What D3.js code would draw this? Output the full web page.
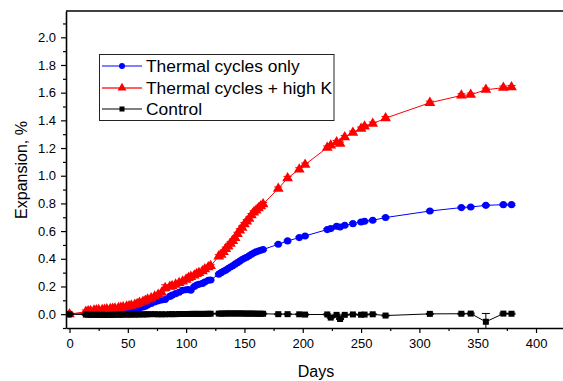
<!DOCTYPE html>
<html>
<head>
<meta charset="utf-8">
<script src="https://cdn.jsdelivr.net/npm/d3@7"></script>
<style>
  body { margin: 0; background: #fff; }
  svg { display: block; font-family: Arial, "Liberation Sans", sans-serif; }
</style>
</head>
<body>
<div id="chart"></div>
<script>
// measurement days (shared by all three series)
var days = [0, 14, 16, 18, 21, 23, 25, 28, 30, 32, 35, 37, 39, 42, 44, 46, 49, 51, 53, 56, 58, 60,
  63, 65, 67, 70, 73, 76, 79, 82, 86, 88, 91, 94, 97, 100, 102, 104, 107, 109, 111, 114, 116, 119, 121,
  128, 130, 132, 134, 136, 138, 140, 142, 144, 146, 148, 150, 152, 154, 156, 158, 160, 162, 164, 166,
  179, 187, 197, 202, 221, 224, 229, 232, 236, 243, 250, 253, 260, 271, 309, 336, 344, 357, 372, 379];

var thermalOnly = [0, 0.004, 0.005, 0.006, 0.007, 0.008, 0.008, 0.009, 0.01, 0.01, 0.011, 0.012, 0.013, 0.014, 0.016, 0.018, 0.021, 0.024, 0.027, 0.032, 0.037, 0.043,
  0.052, 0.058, 0.066, 0.077, 0.088, 0.096, 0.103, 0.106, 0.128, 0.137, 0.148, 0.158, 0.172, 0.176, 0.178, 0.173, 0.2, 0.21, 0.216, 0.222, 0.232, 0.245, 0.247,
  0.289, 0.3, 0.31, 0.318, 0.33, 0.341, 0.35, 0.361, 0.372, 0.383, 0.395, 0.403, 0.411, 0.422, 0.432, 0.442, 0.45, 0.456, 0.462, 0.467,
  0.505, 0.529, 0.553, 0.565, 0.611, 0.618, 0.635, 0.63, 0.642, 0.654, 0.666, 0.671, 0.678, 0.698, 0.745, 0.77, 0.774, 0.786, 0.791, 0.791];

var thermalHighK = [0, 0.018, 0.022, 0.024, 0.026, 0.028, 0.03, 0.031, 0.033, 0.035, 0.038, 0.04, 0.042, 0.045, 0.047, 0.05, 0.055, 0.058, 0.062, 0.068, 0.074, 0.082,
  0.09, 0.098, 0.106, 0.115, 0.128, 0.14, 0.155, 0.19, 0.198, 0.203, 0.214, 0.225, 0.237, 0.25, 0.262, 0.27, 0.28, 0.29, 0.298, 0.31, 0.325, 0.34, 0.348,
  0.418, 0.43, 0.45, 0.472, 0.49, 0.51, 0.53, 0.55, 0.58, 0.605, 0.625, 0.65, 0.67, 0.69, 0.715, 0.735, 0.75, 0.765, 0.78, 0.795,
  0.907, 0.983, 1.046, 1.08, 1.203, 1.219, 1.243, 1.231, 1.279, 1.311, 1.34, 1.356, 1.376, 1.416, 1.527, 1.58, 1.585, 1.621, 1.636, 1.64];

var control = [0, -0.003, -0.004, -0.005, -0.005, -0.005, -0.005, -0.005, -0.005, -0.006, -0.005, -0.005, -0.004, -0.004, -0.004, -0.003, -0.003, -0.003, -0.003, -0.003, -0.002, -0.002,
  -0.002, -0.001, -0.001, 0, 0, -0.001, -0.001, -0.001, 0, 0, 0, 0.001, 0.001, 0.001, 0.001, 0.002, 0.002, 0.002, 0.002, 0.002, 0.002, 0.003, 0.003,
  0.004, 0.004, 0.004, 0.005, 0.005, 0.005, 0.005, 0.005, 0.005, 0.005, 0.005, 0.004, 0.004, 0.004, 0.004, 0.004, 0.003, 0.003, 0.003, 0.003,
  0.0, 0.0, -0.001, -0.003, -0.002, -0.025, -0.005, -0.035, -0.005, -0.002, -0.004, -0.003, -0.001, -0.01, 0.002, 0.003, 0.004, -0.055, 0.004, 0.003];

// error bar half-widths
var errOnly = 0.006, errHighK = 0.012, errControl = 0.004;
var bigErrors = [{series: "highK", day: 82, err: 0.022}, {series: "control", day: 357, err: 0.06}];

var yTicks = [0, 0.2, 0.4, 0.6, 0.8, 1.0, 1.2, 1.4, 1.6, 1.8, 2.0];
var xTicks = [0, 50, 100, 150, 200, 250, 300, 350, 400];

window.onload = function () {
  var W = 563, H = 381;
  var margin = {top: 11, right: -8, bottom: 53, left: 66};

  var svg = d3.select("#chart").append("svg")
    .attr("width", W).attr("height", H);

  var x = d3.scaleLinear().domain([-3, 430]).range([margin.left, W - margin.right]);
  var y = d3.scaleLinear().domain([-0.1, 2.19]).range([H - margin.bottom, margin.top]);

  var series = [
    {key: "only", name: "Thermal cycles only", vals: thermalOnly, color: "#0000ff", err: errOnly, shape: d3.symbolCircle, size: 40},
    {key: "highK", name: "Thermal cycles + high K", vals: thermalHighK, color: "#ff0000", err: errHighK, shape: d3.symbolTriangle, size: 50},
    {key: "control", name: "Control", vals: control, color: "#000000", err: errControl, shape: d3.symbolSquare, size: 36}
  ];

  var plot = svg.append("g");
  plot.append("clipPath").attr("id", "clip").append("rect")
    .attr("x", margin.left).attr("y", margin.top)
    .attr("width", W - margin.right - margin.left).attr("height", H - margin.bottom - margin.top);
  var inner = plot.append("g").attr("clip-path", "url(#clip)");

  series.forEach(function (s) {
    var pts = days.map(function (d, i) {
      var e = s.err;
      bigErrors.forEach(function (b) { if (b.series == s.key && b.day == d) e = b.err; });
      return {d: d, v: s.vals[i], e: e};
    });
    var g = inner.append("g");
    g.append("path").datum(pts)
      .attr("fill", "none").attr("stroke", s.color).attr("stroke-width", 1)
      .attr("d", d3.line().x(function (p) { return x(p.d); }).y(function (p) { return y(p.v); }));

    var eb = g.selectAll(".eb").data(pts).enter().append("g")
      .attr("stroke", s.color).attr("stroke-width", 1);
    eb.append("line")
      .attr("x1", function (p) { return x(p.d); }).attr("x2", function (p) { return x(p.d); })
      .attr("y1", function (p) { return y(p.v - p.e); }).attr("y2", function (p) { return y(p.v + p.e); });
    eb.append("line")
      .attr("x1", function (p) { return x(p.d) - 4; }).attr("x2", function (p) { return x(p.d) + 4; })
      .attr("y1", function (p) { return y(p.v + p.e); }).attr("y2", function (p) { return y(p.v + p.e); });
    eb.append("line")
      .attr("x1", function (p) { return x(p.d) - 4; }).attr("x2", function (p) { return x(p.d) + 4; })
      .attr("y1", function (p) { return y(p.v - p.e); }).attr("y2", function (p) { return y(p.v - p.e); });

    g.selectAll(".pt").data(pts).enter().append("path")
      .attr("transform", function (p) { return "translate(" + x(p.d) + "," + y(p.v) + ")"; })
      .attr("d", d3.symbol().type(s.shape).size(s.size))
      .attr("fill", s.color);
  });

  // axes
  var xAxis = svg.append("g")
    .attr("transform", "translate(0," + (H - margin.bottom) + ")")
    .call(d3.axisBottom(x).tickValues(xTicks).tickFormat(d3.format("d")).tickSize(5).tickSizeOuter(0));
  svg.append("g")
    .attr("transform", "translate(0," + (H - margin.bottom) + ")")
    .call(d3.axisBottom(x).tickValues(d3.range(25, 430, 50)).tickFormat("").tickSize(3).tickSizeOuter(0))
    .select(".domain").remove();

  var yAxis = svg.append("g")
    .attr("transform", "translate(" + margin.left + ",0)")
    .call(d3.axisLeft(y).tickValues(yTicks).tickFormat(d3.format(".1f")).tickSize(5).tickSizeOuter(0));
  svg.append("g")
    .attr("transform", "translate(" + margin.left + ",0)")
    .call(d3.axisLeft(y).tickValues([-0.1, 0.1, 0.3, 0.5, 0.7, 0.9, 1.1, 1.3, 1.5, 1.7, 1.9, 2.1]).tickFormat("").tickSize(3).tickSizeOuter(0))
    .select(".domain").remove();

  svg.selectAll(".domain").attr("stroke-width", 1.6);
  svg.selectAll(".tick line").attr("stroke-width", 1.2);
  xAxis.selectAll("text").style("font-size", "13px").attr("fill", "#000").attr("dy", "0.9em");
  yAxis.selectAll("text").style("font-size", "13px").attr("fill", "#000").attr("dx", "-2");

  // top frame
  svg.append("line")
    .attr("x1", margin.left).attr("x2", W).attr("y1", margin.top).attr("y2", margin.top)
    .attr("stroke", "#000").attr("stroke-width", 1.6);

  svg.append("text").attr("x", 316).attr("y", 377).attr("text-anchor", "middle")
    .style("font-size", "16px").text("Days");
  svg.append("text").attr("transform", "translate(27,170) rotate(-90)").attr("text-anchor", "middle")
    .style("font-size", "16px").text("Expansion, %");

  // legend
  var leg = svg.append("g");
  leg.append("rect").attr("x", 99.5).attr("y", 54.5).attr("width", 234.5).attr("height", 66)
    .attr("fill", "#fff").attr("stroke", "#222").attr("stroke-width", 1);
  var rowsY = [66, 88, 109];
  series.forEach(function (s, i) {
    leg.append("line").attr("x1", 102).attr("x2", 142).attr("y1", rowsY[i]).attr("y2", rowsY[i])
      .attr("stroke", s.key == "highK" ? "#ff6060" : s.color).attr("stroke-width", s.key == "highK" ? 2 : 1);
    leg.append("path").attr("transform", "translate(122," + rowsY[i] + ")")
      .attr("d", d3.symbol().type(s.shape).size(s.size * 0.7)).attr("fill", s.color);
    leg.append("text").attr("x", 146).attr("y", rowsY[i]).attr("dy", "0.35em")
      .style("font-size", "17.4px").text(s.name);
  });
};
</script>
</body>
</html>
